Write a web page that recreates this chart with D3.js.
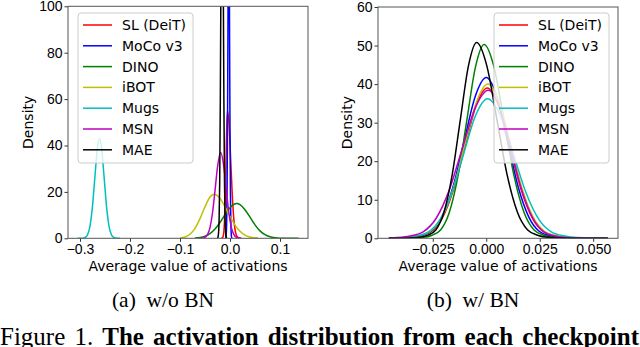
<!DOCTYPE html>
<html>
<head>
<meta charset="utf-8">
<script src="https://cdn.jsdelivr.net/npm/d3@7"></script>
<style>
  body { margin: 0; background: #fff; }
  svg { display: block; font-family: 'DejaVu Sans', sans-serif; }
  .tick text { font-size: 14px; fill: #000; }
  .tick line { stroke: #333; }
  .frame { fill: none; stroke: #555; stroke-width: 1; }
  .curve { fill: none; stroke-width: 1.5; }
  .legend-box { fill: #fff; fill-opacity: 0.8; stroke: #ccc; }
  .label { font-size: 14px; fill: #000; }
  .caption { font-family: 'Liberation Serif', 'Times New Roman', serif; fill: #000; }
</style>
</head>
<body>
<svg width="640" height="347"></svg>
<script>
var svg = d3.select('svg');

// Legend entries and their matplotlib colours
var seriesNames = ['SL (DeiT)', 'MoCo v3', 'DINO', 'iBOT', 'Mugs', 'MSN', 'MAE'];
var seriesColors = ['#ff0000', '#0000ff', '#008000', '#bfbf00', '#00bfbf', '#bf00bf', '#000000'];

// Tick values of both panels
var woXTicks = [-0.3, -0.2, -0.1, 0.0, 0.1];
var woYTicks = [0, 20, 40, 60, 80, 100];
var wXTicks = [-0.025, 0.0, 0.025, 0.05];
var wYTicks = [0, 10, 20, 30, 40, 50, 60];

// (a) w/o BN : density curves, [value, density]
var woSL = [[-0.017,0.02],[-0.014,0.61],[-0.0125,2.4],[-0.011,7.4],[-0.0095,17.9],[-0.008,33.4],[-0.0065,48.5],[-0.005,55],
  [-0.00175,48.5],[0.0015,33.4],[0.00475,17.9],[0.008,7.4],[0.01125,2.4],[0.0145,0.61],[0.021,0.02]];
var woMoCo = [[-0.0093,0.04],[-0.00845,0.31],[-0.0076,1.55],[-0.00675,6.1],[-0.0059,18.9],[-0.00505,45.5],[-0.0042,84.9],[-0.00335,123.6],
  [-0.0025,140],[-0.00165,123.6],[-0.0008,84.9],[0.00005,45.5],[0.0009,18.9],[0.00175,6.1],[0.0026,1.55],[0.00345,0.31],[0.0043,0.04]];
var woDINO = [[-0.07,0.11],[-0.06,0.33],[-0.05,0.88],[-0.04,2.0],[-0.03,4.0],[-0.02,6.8],[-0.01,10.2],[0.0,13.2],[0.0134,15],
  [0.02,14.5],[0.03,12.3],[0.04,9.1],[0.05,5.8],[0.06,3.2],[0.07,1.56],[0.08,0.66],[0.09,0.24],[0.1,0.07],[0.115,0.01],[0.137,0]];
var woiBOT = [[-0.1,0.16],[-0.09,0.59],[-0.08,1.76],[-0.07,4.3],[-0.06,8.5],[-0.05,13.6],[-0.04,17.8],[-0.032,19],
  [-0.02,17.2],[-0.01,13.6],[0.0,9.4],[0.01,5.7],[0.02,3.0],[0.03,1.36],[0.04,0.54],[0.05,0.19],[0.056,0.08]];
var woMugs = [[-0.305,0],[-0.295,0.05],[-0.29,0.33],[-0.285,1.5],[-0.28,5.3],[-0.275,13.9],[-0.27,26.9],[-0.265,39.2],[-0.261,43],
  [-0.257,39.2],[-0.252,26.9],[-0.247,13.9],[-0.242,5.3],[-0.237,1.5],[-0.232,0.33],[-0.227,0.05],[-0.22,0]];
var woMSN = [[-0.06,0.02],[-0.05,0.42],[-0.045,1.57],[-0.04,4.6],[-0.035,10.9],[-0.03,20.5],[-0.025,30.7],[-0.0186,37],
  [-0.0122,30.7],[-0.0072,20.5],[-0.0022,10.9],[0.0028,4.6],[0.0078,1.57],[0.0128,0.42],[0.0228,0.02]];
var woMAE = [[-0.0254,0.05],[-0.0242,0.4],[-0.023,2.0],[-0.0218,7.9],[-0.0206,24.4],[-0.0194,58.4],[-0.0182,109.2],[-0.017,158.9],
  [-0.0158,180],[-0.0146,158.9],[-0.0134,109.2],[-0.0122,58.4],[-0.011,24.4],[-0.0098,7.9],[-0.0086,2.0],[-0.0074,0.4],[-0.0062,0.05]];

// (b) w/ BN
var wSL = [[-0.0455,0],[-0.0445,0.03],[-0.03625,0.2],[-0.031,0.62],[-0.02575,1.71],[-0.0205,5.28],[-0.01525,12.7],[-0.01,23.7],[-0.00475,34.4],
  [0.0005,39],[0.00575,34.4],[0.011,23.7],[0.01625,12.7],[0.0215,5.28],[0.02675,1.71],[0.032,0.62],[0.03725,0.2],[0.04775,0.03],[0.0568,0]];
var wMoCo = [[-0.0455,0],[-0.0445,0.03],[-0.03605,0.21],[-0.0309,0.67],[-0.02575,1.83],[-0.0206,5.64],[-0.01545,13.5],[-0.0103,25.3],[-0.00515,36.8],
  [0,41.7],[0.00495,36.8],[0.0099,25.3],[0.01485,13.5],[0.0198,5.64],[0.02475,1.83],[0.0297,0.67],[0.03465,0.21],[0.04455,0.03],[0.0568,0]];
var wDINO = [[-0.0455,0],[-0.03745,0.04],[-0.02935,0.25],[-0.0253,0.8],[-0.02125,2.21],[-0.0172,6.8],[-0.01315,16.3],[-0.0091,30.5],[-0.00505,44.4],
  [-0.001,50.3],[0.00365,44.4],[0.0083,30.5],[0.01295,16.3],[0.0176,6.8],[0.02225,2.21],[0.0269,0.8],[0.03155,0.25],[0.04085,0.04],[0.0568,0]];
var wiBOT = [[-0.0455,0],[-0.0445,0.03],[-0.037,0.2],[-0.0316,0.64],[-0.0262,1.76],[-0.0208,5.41],[-0.0154,13.0],[-0.01,24.3],[-0.0046,35.3],
  [0.0008,40],[0.0061,35.3],[0.0114,24.3],[0.0167,13.0],[0.022,5.41],[0.0273,1.76],[0.0326,0.64],[0.0379,0.2],[0.0485,0.03],[0.0568,0]];
var wMugs = [[-0.0455,0.04],[-0.03825,0.18],[-0.0327,0.58],[-0.02715,1.59],[-0.0216,4.9],[-0.01605,11.8],[-0.0105,22.0],[-0.00495,31.9],
  [0.0006,36.2],[0.0066,31.9],[0.0126,22.0],[0.0186,11.8],[0.0246,4.9],[0.0306,1.59],[0.0366,0.58],[0.0426,0.18],[0.0546,0.03],[0.0568,0]];
var wMSN = [[-0.0455,0.08],[-0.0417,0.19],[-0.0356,0.61],[-0.0295,1.69],[-0.0234,5.2],[-0.0173,12.5],[-0.0112,23.3],[-0.0051,33.9],
  [0.001,38.4],[0.0062,33.9],[0.0114,23.3],[0.0166,12.5],[0.0218,5.2],[0.027,1.69],[0.0322,0.61],[0.0374,0.19],[0.0478,0.03],[0.0568,0]];
var wMAE = [[-0.0455,0],[-0.0387,0.04],[-0.0311,0.25],[-0.0273,0.81],[-0.0235,2.23],[-0.0197,6.87],[-0.0159,16.5],[-0.0121,30.8],[-0.0083,44.8],
  [-0.0045,50.8],[0.00025,44.8],[0.005,30.8],[0.00975,16.5],[0.0145,6.87],[0.01925,2.23],[0.024,0.81],[0.02875,0.25],[0.0383,0.04],[0.0568,0]];

var woBN = [woSL, woMoCo, woDINO, woiBOT, woMugs, woMSN, woMAE];
var wBN = [wSL, wMoCo, wDINO, wiBOT, wMugs, wMSN, wMAE];

// Draw one density panel with frame, axes, curves and legend
function drawPanel(id, box, xDomain, yDomain, xTicks, yTicks, xFmt, curves, legendX, labelX) {
    var x = d3.scaleLinear().domain(xDomain).range([box.l, box.r]);
    var y = d3.scaleLinear().domain(yDomain).range([box.b, box.t]);
    var g = svg.append('g').attr('class', 'panel');

    g.append('clipPath').attr('id', id)
      .append('rect')
        .attr('x', box.l).attr('y', box.t)
        .attr('width', box.r - box.l).attr('height', box.b - box.t);

    var line = d3.line()
        .x(function(d) { return x(d[0]); })
        .y(function(d) { return y(d[1]); })
        .curve(d3.curveMonotoneX);

    g.append('g').attr('clip-path', 'url(#' + id + ')')
      .selectAll('path')
      .data(curves)
      .enter()
      .append('path')
        .attr('class', 'curve')
        .attr('d', line)
        .style('stroke', function(d, i) { return seriesColors[i]; });

    var xAxis = d3.axisBottom(x).tickValues(xTicks).tickFormat(d3.format(xFmt))
        .tickSize(3.5).tickPadding(2.5).tickSizeOuter(0);
    var yAxis = d3.axisLeft(y).tickValues(yTicks).tickSize(3.5).tickPadding(2).tickSizeOuter(0);

    g.append('g').attr('transform', 'translate(0,' + box.b + ')').call(xAxis)
        .call(function(s) { s.select('.domain').remove(); });
    g.append('g').attr('transform', 'translate(' + box.l + ',0)').call(yAxis)
        .call(function(s) { s.select('.domain').remove(); });
    svg.selectAll('.tick text').attr('font-family', null).attr('font-size', null);

    g.append('rect').attr('class', 'frame')
        .attr('x', box.l).attr('y', box.t)
        .attr('width', box.r - box.l).attr('height', box.b - box.t);

    g.append('text').attr('class', 'label')
        .attr('x', (box.l + box.r) / 2).attr('y', 271)
        .attr('text-anchor', 'middle')
        .text('Average value of activations');
    g.append('text').attr('class', 'label')
        .attr('transform', 'translate(' + [labelX, (box.t + box.b) / 2] + ')rotate(-90)')
        .attr('text-anchor', 'middle')
        .attr('dy', '0.35em')
        .text('Density');

    // Legend
    var lg = g.append('g').attr('transform', 'translate(' + [legendX, 13] + ')');
    lg.append('rect').attr('class', 'legend-box')
        .attr('width', 115).attr('height', 150).attr('rx', 3);
    var item = lg.selectAll('.item')
        .data(seriesNames)
        .enter()
        .append('g')
        .attr('class', 'item')
        .attr('transform', function(d, i) { return 'translate(0,' + (12 + i * 20.8) + ')'; });
    item.append('line')
        .attr('x1', 5).attr('x2', 34)
        .style('stroke', function(d, i) { return seriesColors[i]; })
        .style('stroke-width', 1.5);
    item.append('text').attr('class', 'label')
        .attr('x', 44).attr('dy', '0.35em')
        .text(function(d) { return d; });
}

drawPanel('clipA', {l: 68, r: 308, t: 6.3, b: 238.3}, [-0.324, 0.156], [0, 100],
    woXTicks, woYTicks, '.1f', woBN, 78, 28);
drawPanel('clipB', {l: 378, r: 618, t: 7, b: 238.3}, [-0.0506, 0.0616], [0, 60],
    wXTicks, wYTicks, '.3f', wBN, 494, 347);

// Sub-captions and figure caption
svg.append('text').attr('class', 'caption')
    .attr('x', 163).attr('y', 307).attr('text-anchor', 'middle')
    .style('font-size', '21.5px').style('white-space', 'pre')
    .text('(a)  w/o BN');
svg.append('text').attr('class', 'caption')
    .attr('x', 473).attr('y', 307).attr('text-anchor', 'middle')
    .style('font-size', '21.5px').style('white-space', 'pre')
    .text('(b)  w/ BN');

var cap = svg.append('text').attr('class', 'caption')
    .attr('x', 0).attr('y', 345).style('font-size', '25px');
cap.append('tspan').text('Figure 1. ');
cap.append('tspan').style('font-weight', 'bold')
    .text('The activation distribution from each checkpoint');
// justify the caption line across the figure width
var capWidth = cap.node().getComputedTextLength();
cap.attr('word-spacing', Math.max(0, (639 - capWidth) / 7));
</script>
</body>
</html>
